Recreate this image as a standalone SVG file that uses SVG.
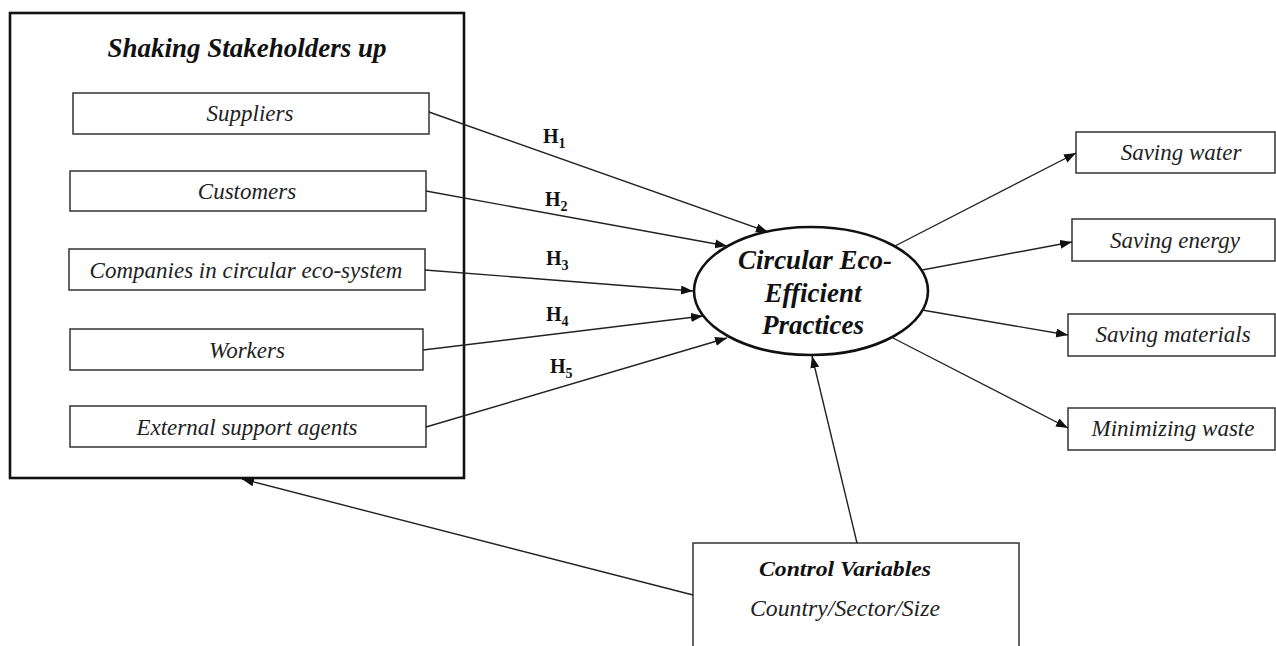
<svg xmlns="http://www.w3.org/2000/svg" width="1276" height="646" viewBox="0 0 1276 646">
<style>
.bg{fill:#fff}
.box{fill:#fff;stroke:#333;stroke-width:1.5}
.outer{fill:none;stroke:#111;stroke-width:2.6}
.t{font-family:"Liberation Serif",serif;font-style:italic;font-size:23px;fill:#222;text-anchor:middle}
.tb{font-family:"Liberation Serif",serif;font-style:italic;font-weight:bold;fill:#111;text-anchor:middle}
.h{font-family:"Liberation Serif",serif;font-weight:bold;font-size:20px;fill:#111}
.edge{stroke:#222;stroke-width:1.4;fill:none;marker-end:url(#ah)}
</style>
<defs>
<marker id="ah" markerUnits="userSpaceOnUse" markerWidth="13" markerHeight="10" refX="12" refY="4.5" orient="auto">
<path d="M0,0 L12,4.5 L0,9 z" fill="#111"/>
</marker>
</defs>
<rect class="bg" x="0" y="0" width="1276" height="646"/>

<g id="stakeholders">
<rect class="outer" x="10" y="13" width="454" height="465"/>
<text class="tb" x="247" y="57" font-size="27">Shaking Stakeholders up</text>
</g>
<g id="suppliers"><rect class="box" x="73" y="93" width="356" height="41"/><text class="t" x="250" y="121">Suppliers</text></g>
<g id="customers"><rect class="box" x="70" y="171" width="356" height="40"/><text class="t" x="247" y="199">Customers</text></g>
<g id="companies"><rect class="box" x="69" y="249" width="356" height="41"/><text class="t" x="246" y="278">Companies in circular eco-system</text></g>
<g id="workers"><rect class="box" x="70" y="329" width="353" height="41"/><text class="t" x="247" y="358">Workers</text></g>
<g id="external"><rect class="box" x="70" y="406" width="356" height="41"/><text class="t" x="247" y="435">External support agents</text></g>

<g id="practices">
<ellipse cx="811" cy="291" rx="117" ry="64" fill="#fff" stroke="#111" stroke-width="2.6"/>
<text class="tb" x="815" y="269" font-size="27">Circular Eco-</text>
<text class="tb" x="813" y="302" font-size="27">Efficient</text>
<text class="tb" x="813" y="334" font-size="27">Practices</text>
</g>

<g id="water"><rect class="box" x="1076" y="132" width="199" height="41"/><text class="t" x="1181" y="160">Saving water</text></g>
<g id="energy"><rect class="box" x="1072" y="219" width="203" height="42"/><text class="t" x="1175" y="248">Saving energy</text></g>
<g id="materials"><rect class="box" x="1068" y="314" width="207" height="42"/><text class="t" x="1173" y="342">Saving materials</text></g>
<g id="waste"><rect class="box" x="1068" y="408" width="207" height="42"/><text class="t" x="1173" y="436">Minimizing waste</text></g>

<g id="control">
<rect class="box" x="693" y="543" width="326" height="112"/>
<text class="tb" x="845" y="576" font-size="20" textLength="172" lengthAdjust="spacingAndGlyphs">Control Variables</text>
<text class="t" x="845" y="616" font-size="20" textLength="190" lengthAdjust="spacingAndGlyphs">Country/Sector/Size</text>
</g>

<g id="connectors">
<line class="edge" x1="429" y1="112" x2="768" y2="232"/>
<line class="edge" x1="426" y1="191" x2="727" y2="246"/>
<line class="edge" x1="425" y1="270" x2="693" y2="291"/>
<line class="edge" x1="423" y1="350" x2="703" y2="316"/>
<line class="edge" x1="426" y1="427" x2="727" y2="338"/>
<line class="edge" x1="895" y1="246" x2="1076" y2="153"/>
<line class="edge" x1="922" y1="270" x2="1072" y2="242"/>
<line class="edge" x1="922" y1="310" x2="1068" y2="335"/>
<line class="edge" x1="893" y1="338" x2="1068" y2="428"/>
<line class="edge" x1="857" y1="543" x2="812" y2="356"/>
<line class="edge" x1="693" y1="595" x2="242" y2="479"/>
<text class="h" x="543" y="143">H<tspan font-size="14" dy="5">1</tspan></text>
<text class="h" x="545" y="206">H<tspan font-size="14" dy="5">2</tspan></text>
<text class="h" x="546" y="265">H<tspan font-size="14" dy="5">3</tspan></text>
<text class="h" x="546" y="321">H<tspan font-size="14" dy="5">4</tspan></text>
<text class="h" x="550" y="373">H<tspan font-size="14" dy="5">5</tspan></text>
</g>
</svg>
